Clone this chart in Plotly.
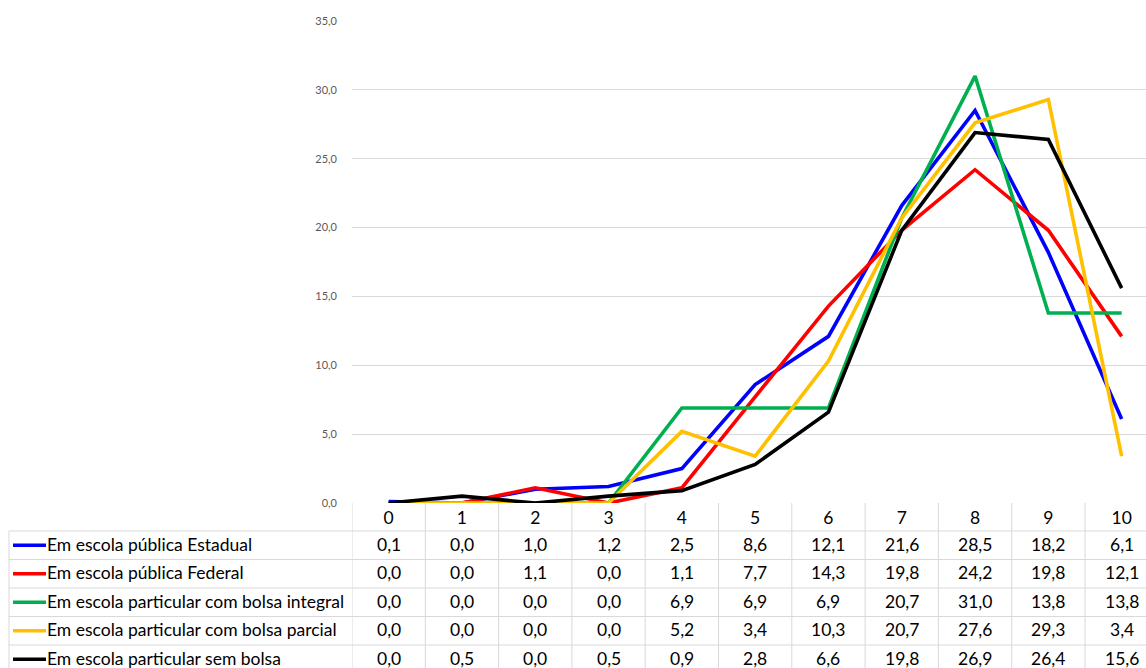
import plotly.graph_objects as go

categories = ["0", "1", "2", "3", "4", "5", "6", "7", "8", "9", "10"]
series_names = [
    "Em escola pública Estadual",
    "Em escola pública Federal",
    "Em escola particular com bolsa integral",
    "Em escola particular com bolsa parcial",
    "Em escola particular sem bolsa",
]
estadual = [0.1, 0.0, 1.0, 1.2, 2.5, 8.6, 12.1, 21.6, 28.5, 18.2, 6.1]
federal = [0.0, 0.0, 1.1, 0.0, 1.1, 7.7, 14.3, 19.8, 24.2, 19.8, 12.1]
bolsa_integral = [0.0, 0.0, 0.0, 0.0, 6.9, 6.9, 6.9, 20.7, 31.0, 13.8, 13.8]
bolsa_parcial = [0.0, 0.0, 0.0, 0.0, 5.2, 3.4, 10.3, 20.7, 27.6, 29.3, 3.4]
sem_bolsa = [0.0, 0.5, 0.0, 0.5, 0.9, 2.8, 6.6, 19.8, 26.9, 26.4, 15.6]
series_values = [estadual, federal, bolsa_integral, bolsa_parcial, sem_bolsa]
colors = ["#0000FF", "#FF0000", "#00B050", "#FFC000", "#000000"]
y_ticks = [0, 5, 10, 15, 20, 25, 30, 35]

W, H = 1146, 668
ML, MR, MT, MB = 352, 0, 21, 165
PW = W - ML - MR
PH = H - MT - MB
FONT = "Lato"
TSIZE = 17.5

def px_to_paper_y(py):
    return (H - MB - py) / PH

def px_to_paper_x(px):
    return (px - ML) / PW

xs = list(range(len(categories)))
fig = go.Figure()
for name, vals, col in zip(series_names, series_values, colors):
    fig.add_trace(go.Scatter(x=xs, y=vals, mode="lines", name=name,
                             line=dict(color=col, width=3.6), showlegend=False,
                             cliponaxis=False))

shapes = []
annotations = []
grid_col = "#D9D9D9"
bottom = px_to_paper_y(H + 5)
row_h = 28.5
first_row_top = 531
left_px = 9

# vertical column lines of the data table
for i in range(len(categories) + 1):
    shapes.append(dict(type="line", xref="x", yref="paper", x0=i - 0.5, x1=i - 0.5,
                       y0=0, y1=bottom, line=dict(color=grid_col, width=1)))
# left border of legend column
shapes.append(dict(type="line", xref="paper", yref="paper",
                   x0=px_to_paper_x(left_px), x1=px_to_paper_x(left_px),
                   y0=px_to_paper_y(first_row_top), y1=bottom,
                   line=dict(color=grid_col, width=1)))
# horizontal row lines
for r in range(len(series_names)):
    yy = px_to_paper_y(first_row_top + r * row_h)
    shapes.append(dict(type="line", xref="paper", yref="paper",
                       x0=px_to_paper_x(left_px), x1=1.0, y0=yy, y1=yy,
                       line=dict(color=grid_col, width=1)))

for r, (name, vals, col) in enumerate(zip(series_names, series_values, colors)):
    cy_px = first_row_top + r * row_h + row_h / 2
    cy = px_to_paper_y(cy_px)
    ty = px_to_paper_y(cy_px - 1)
    shapes.append(dict(type="line", xref="paper", yref="paper",
                       x0=px_to_paper_x(13), x1=px_to_paper_x(46), y0=cy, y1=cy,
                       line=dict(color=col, width=3.6)))
    annotations.append(dict(xref="paper", yref="paper", x=px_to_paper_x(45), y=ty,
                            text=name, showarrow=False, xanchor="left", yanchor="middle",
                            font=dict(family=FONT, size=TSIZE, color="#000000")))
    for i, v in enumerate(vals):
        annotations.append(dict(xref="x", yref="paper", x=i, y=ty,
                                text=f"{v:.1f}".replace(".", ","), showarrow=False,
                                xanchor="center", yanchor="middle",
                                font=dict(family=FONT, size=TSIZE, color="#000000")))

fig.update_layout(
    width=W, height=H,
    margin=dict(l=ML, r=MR, t=MT, b=MB, pad=0),
    paper_bgcolor="white", plot_bgcolor="white",
    separators=", ",
    shapes=shapes, annotations=annotations,
    xaxis=dict(range=[-0.5, -0.5 + PW / 73.3], tickmode="array", tickvals=xs,
               ticktext=categories, showgrid=False, zeroline=False, showline=False,
               ticks="", ticklabelstandoff=2,
               tickfont=dict(family=FONT, size=TSIZE, color="#000000")),
    yaxis=dict(range=[0, 35], tickvals=y_ticks, tickformat=".1f",
               showgrid=True, gridcolor=grid_col, gridwidth=1, zeroline=False,
               showline=False, ticks="", ticklabelstandoff=14,
               tickfont=dict(family=FONT, size=11, color="#595959")),
)

fig.write_html("out.html")
